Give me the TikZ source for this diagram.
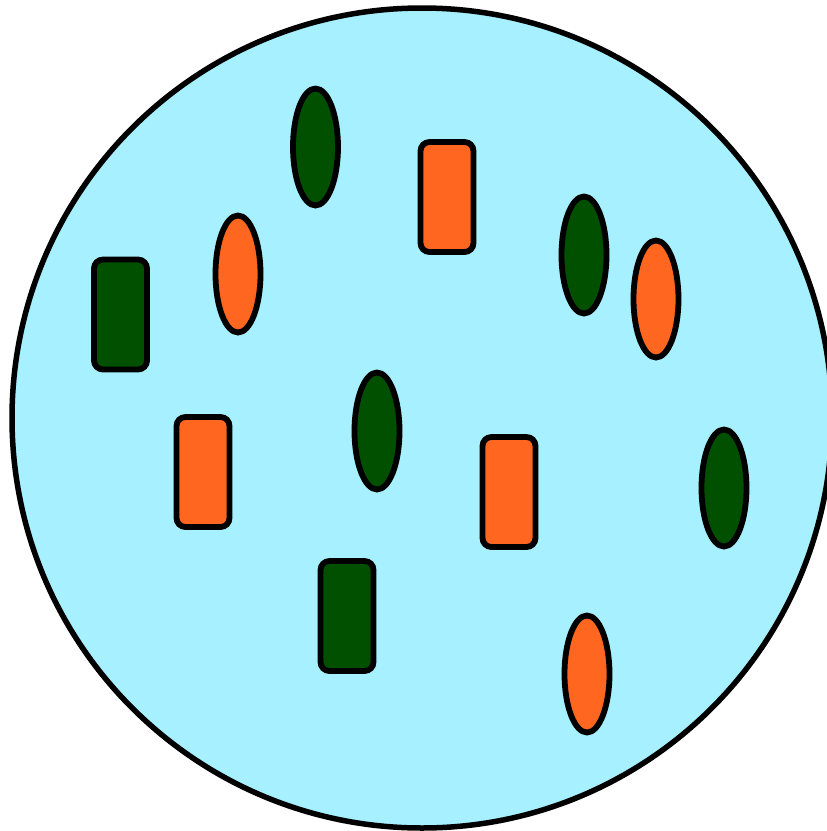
\documentclass[tikz,border=0pt]{standalone}
\usetikzlibrary{shapes.geometric}
\definecolor{bgblue}{HTML}{A6F0FF}
\definecolor{dgreen}{HTML}{005000}
\definecolor{orng}{HTML}{FF6620}
\tikzset{
  base/.style={draw=black,line width=5.8pt,inner sep=0pt},
  oval/.style={base,ellipse,minimum width=45pt,minimum height=117pt},
  box/.style={base,rectangle,rounded corners=9pt,minimum width=53pt,minimum height=110pt},
  gr/.style={fill=dgreen},
  og/.style={fill=orng}
}
\begin{document}
\begin{tikzpicture}[x=1pt,y=-1pt]
\useasboundingbox (0,0) rectangle (827,831);
\clip (0,0) rectangle (827,831);
\draw[fill=bgblue,line width=5.5pt] (422,418) circle (410);
\node[oval,gr] (e1) at (315.5,147) {};
\node[box,og] (r1) at (447,197) {};
\node[oval,gr] (e2) at (584,255) {};
\node[oval,og] (e3) at (656,299) {};
\node[oval,og] (e4) at (238,274) {};
\node[box,gr] (r2) at (120.5,314.5) {};
\node[box,og] (r3) at (203,472) {};
\node[oval,gr] (e5) at (377,431) {};
\node[box,og] (r4) at (509,492) {};
\node[oval,gr] (e6) at (724,488) {};
\node[box,gr] (r5) at (347,616) {};
\node[oval,og] (e7) at (587,674) {};
\end{tikzpicture}
\end{document}
